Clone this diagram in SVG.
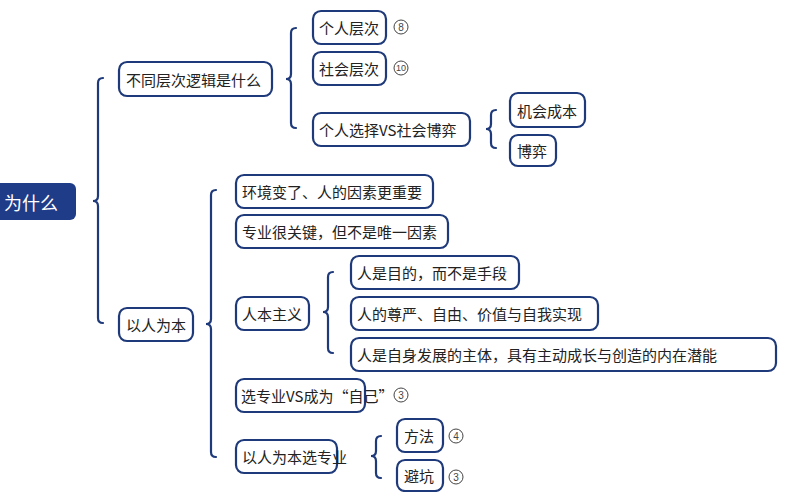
<svg xmlns="http://www.w3.org/2000/svg" width="789" height="492" viewBox="0 0 789 492">
<style>
.n{fill:#fff;stroke:#1f3a7a;stroke-width:2.2}
.t{font-family:"Noto Sans CJK SC","Liberation Sans",sans-serif;font-size:15px;fill:#222;dominant-baseline:central}
.b{fill:none;stroke:#1f3a7a;stroke-width:2.2;stroke-linecap:round}
.c{fill:#fff;stroke:#444;stroke-width:1}
.ct{font-family:"Liberation Sans",sans-serif;font-size:10px;fill:#444;text-anchor:middle;dominant-baseline:central}
</style>
<rect width="789" height="492" fill="#fff"/>
<g id="connectors">
<path class="b" d="M103 78 Q98 78 98 83 L98 196 Q98 201 93 201 Q98 201 98 206 L98 318 Q98 323 103 323"/>
<path class="b" d="M296 28 Q291 28 291 33 L291 74 Q291 79 286 79 Q291 79 291 84 L291 123 Q291 128 296 128"/>
<path class="b" d="M496 110 Q491 110 491 115 L491 124 Q491 129 486 129 Q491 129 491 134 L491 143 Q491 148 496 148"/>
<path class="b" d="M216 190 Q211 190 211 195 L211 319 Q211 324 206 324 Q211 324 211 329 L211 452 Q211 457 216 457"/>
<path class="b" d="M333 272 Q328 272 328 277 L328 307 Q328 312 323 312 Q328 312 328 317 L328 348 Q328 353 333 353"/>
<path class="b" d="M381 436 Q376 436 376 441 L376 451 Q376 456 371 456 Q376 456 376 461 L376 473 Q376 478 381 478"/>
</g>
<g id="root"><rect x="-8" y="183" width="84" height="37" rx="6" fill="#1f3c88"/><text x="4" y="201.5" style="font-family:'Noto Sans CJK SC',sans-serif;font-size:18px;fill:#fff;dominant-baseline:central">为什么</text></g>
<g id="n1"><rect class="n" x="119" y="62" width="153" height="34" rx="8"/><text class="t" x="126" y="79">不同层次逻辑是什么</text></g>
<g id="n2"><rect class="n" x="313" y="11" width="73" height="33" rx="8"/><text class="t" x="319" y="27.5">个人层次</text><circle class="c" cx="401" cy="27" r="7"/><text class="ct" x="401" y="27">8</text></g>
<g id="n3"><rect class="n" x="313" y="52" width="73" height="33" rx="8"/><text class="t" x="319" y="68.5">社会层次</text><circle class="c" cx="401" cy="68" r="7"/><text class="ct" x="401" y="68" style="font-size:9px">10</text></g>
<g id="n4"><rect class="n" x="313" y="113" width="157" height="33" rx="8"/><text class="t" x="319" y="129.5">个人选择VS社会博弈</text></g>
<g id="n5"><rect class="n" x="510" y="93" width="75" height="34" rx="8"/><text class="t" x="517" y="110">机会成本</text></g>
<g id="n6"><rect class="n" x="510" y="135" width="46" height="31" rx="8"/><text class="t" x="517" y="150.5">博弈</text></g>
<g id="n7"><rect class="n" x="119" y="308" width="74" height="33" rx="8"/><text class="t" x="126" y="324.5">以人为本</text></g>
<g id="n8"><rect class="n" x="236" y="175" width="197" height="33" rx="8"/><text class="t" x="242" y="191.5">环境变了、人的因素更重要</text></g>
<g id="n9"><rect class="n" x="236" y="215" width="212" height="33" rx="8"/><text class="t" x="242" y="231.5">专业很关键，但不是唯一因素</text></g>
<g id="n10"><rect class="n" x="236" y="297" width="73" height="33" rx="8"/><text class="t" x="242" y="313.5">人本主义</text></g>
<g id="n11"><rect class="n" x="351" y="256" width="168" height="33" rx="8"/><text class="t" x="357" y="272.5">人是目的，而不是手段</text></g>
<g id="n12"><rect class="n" x="351" y="297" width="247" height="33" rx="8"/><text class="t" x="357" y="313.5">人的尊严、自由、价值与自我实现</text></g>
<g id="n13"><rect class="n" x="351" y="338" width="425" height="33" rx="8"/><text class="t" x="357" y="354.5">人是自身发展的主体，具有主动成长与创造的内在潜能</text></g>
<g id="n14"><rect class="n" x="236" y="379" width="129" height="33" rx="8"/><text class="t" x="241" y="395.5">选专业VS成为“自己”</text><circle class="c" cx="401" cy="395" r="7"/><text class="ct" x="401" y="395">3</text></g>
<g id="n15"><rect class="n" x="236" y="440" width="101" height="33" rx="8"/><text class="t" x="242" y="456.5">以人为本选专业</text></g>
<g id="n16"><rect class="n" x="397" y="419" width="46" height="33" rx="8"/><text class="t" x="404" y="435.5">方法</text><circle class="c" cx="456" cy="436" r="7"/><text class="ct" x="456" y="436">4</text></g>
<g id="n17"><rect class="n" x="397" y="460" width="46" height="31" rx="8"/><text class="t" x="404" y="475.5">避坑</text><circle class="c" cx="456" cy="477" r="7"/><text class="ct" x="456" y="477">3</text></g>
</svg>
